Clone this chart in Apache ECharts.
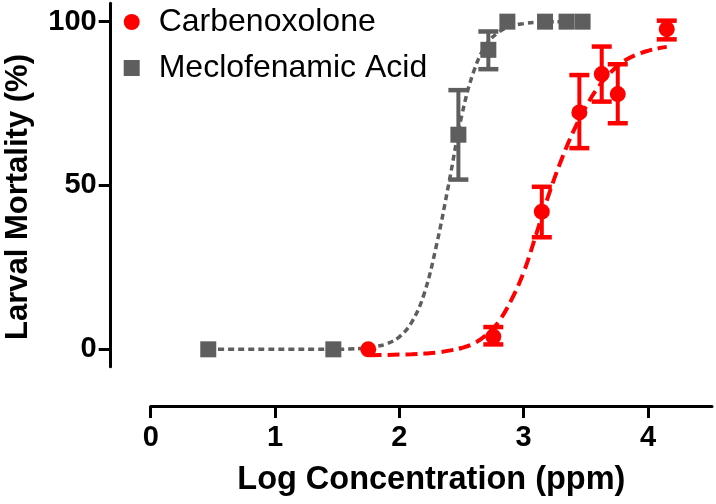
<!DOCTYPE html>
<html>
<head>
<meta charset="utf-8">
<script src="https://cdn.jsdelivr.net/npm/echarts@6/dist/echarts.min.js"></script>
<style>html,body{margin:0;padding:0;background:#fff}#c{width:716px;height:504px}</style>
</head>
<body>
<div id="c"></div>
<script>
// Carbenoxolone (red circles)
const carbX = [1.75, 2.756, 3.146, 3.448, 3.628, 3.757, 4.151];
const carbY = [0, 3.9, 42, 72.3, 84, 77.9, 97.7];
const carbHigh = [0, 6.8, 49.6, 83.7, 92.4, 87, 100.3];
const carbLow = [0, 1.5, 34.2, 61.4, 75.6, 69, 94.6];
// Meclofenamic Acid (grey squares)
const mecX = [0.463, 1.469, 2.475, 2.716, 2.869, 3.172, 3.345, 3.474];
const mecY = [0, 0, 65.5, 91.4, 100, 100, 100, 100];
const mecHigh = [0, 0, 79.1, 97, 100, 100, 100, 100];
const mecLow = [0, 0, 51.8, 85.5, 100, 100, 100, 100];
// fitted curves
const mecCurveX = [0.463, 1.0, 1.469, 1.6, 1.7, 1.8, 1.9, 2.0, 2.1, 2.2, 2.3, 2.4, 2.5, 2.6, 2.7, 2.8, 2.9, 3.0, 3.1, 3.2, 3.3, 3.474];
const mecCurveY = [0, 0, 0, 0.1, 0.3, 0.8, 1.7, 3.8, 8.3, 17, 32, 51, 71, 85, 93, 96.8, 98.6, 99.4, 99.8, 100, 100, 100];
const carbCurveX = [1.76, 1.9, 2.0, 2.1, 2.2, 2.3, 2.4, 2.5, 2.6, 2.7, 2.8, 2.9, 3.0, 3.1, 3.2, 3.3, 3.4, 3.5, 3.6, 3.7, 3.8, 3.9, 4.0, 4.1, 4.151];
const carbCurveY = [-1.8, -1.7, -1.6, -1.5, -1.3, -1.0, -0.4, 0.4, 1.8, 4.4, 8.5, 15, 23.5, 35, 47, 57.5, 66.5, 74, 80, 84.5, 87.8, 89.8, 91.1, 92, 92.3];
// ticks
const xTicks = [0, 1, 2, 3, 4];
const yTicks = [0, 50, 100];
const seriesNames = ['Carbenoxolone', 'Meclofenamic Acid'];

const RED = '#ff0000', GREY = '#5e5e5e';
const FONT = 'Liberation Sans, Arial, sans-serif';

const zip = (a, b) => a.map((v, i) => [v, b[i]]);
const errData = (x, lo, hi) => x.map((v, i) => [v, lo[i], hi[i]]).filter(d => d[2] > d[1]);

function errRender(color) {
  return function (params, api) {
    const x = api.value(0), lo = api.value(1), hi = api.value(2);
    const t = api.coord([x, hi]), b = api.coord([x, lo]);
    const hw = 10, st = {stroke: color, lineWidth: 4.5};
    return {type: 'group', children: [
      {type: 'line', shape: {x1: t[0], y1: t[1], x2: b[0], y2: b[1]}, style: {stroke: color, lineWidth: 4}},
      {type: 'line', shape: {x1: t[0] - hw, y1: t[1], x2: t[0] + hw, y2: t[1]}, style: st},
      {type: 'line', shape: {x1: b[0] - hw, y1: b[1], x2: b[0] + hw, y2: b[1]}, style: st}
    ]};
  };
}

const chart = echarts.init(document.getElementById('c'), null, {renderer: 'canvas'});
chart.setOption({
  animation: false,
  backgroundColor: '#fff',
  grid: {left: 150.7, right: 4, top: 3.3, bottom: 137.3, containLabel: false, outerBoundsMode: 'none'},
  legend: {
    orient: 'vertical', left: 123.7, top: 6, padding: 0, itemGap: 14,
    itemWidth: 16, itemHeight: 16,
    data: [{name: seriesNames[0], icon: 'circle'}, {name: seriesNames[1], icon: 'rect'}],
    textStyle: {fontFamily: FONT, fontSize: 32, lineHeight: 32, color: '#000', padding: [0, 0, 0, 14]}
  },
  xAxis: {
    type: 'value', min: 0, max: 4.515, offset: 39.3,
    name: 'Log Concentration (ppm)', nameLocation: 'middle', nameGap: 58,
    nameTextStyle: {fontFamily: FONT, fontSize: 32.5, fontWeight: 'bold', color: '#000'},
    axisLine: {show: true, onZero: false, lineStyle: {color: '#000', width: 3}},
    axisTick: {show: true, length: 12, lineStyle: {color: '#000', width: 3}, customValues: xTicks},
    axisLabel: {fontFamily: FONT, fontSize: 29, fontWeight: 'bold', color: '#000', margin: 17, customValues: xTicks},
    splitLine: {show: false}
  },
  yAxis: {
    type: 'value', min: -5.3, max: 105.6, offset: 40,
    name: 'Larval Mortality (%)', nameLocation: 'middle', nameGap: 77,
    nameTextStyle: {fontFamily: FONT, fontSize: 31, fontWeight: 'bold', color: '#000', padding: [0, 24, 0, 0]},
    axisLine: {show: true, onZero: false, lineStyle: {color: '#000', width: 3}},
    axisTick: {show: true, length: 12, lineStyle: {color: '#000', width: 3}, customValues: yTicks},
    axisLabel: {fontFamily: FONT, fontSize: 29, fontWeight: 'bold', color: '#000', margin: 14, customValues: yTicks},
    splitLine: {show: false}
  },
  series: [
    {name: 'mecFit', type: 'line', data: zip(mecCurveX, mecCurveY), smooth: 0.4, showSymbol: false, symbol: 'none', silent: true,
      lineStyle: {color: GREY, width: 3.5, type: [6, 4]}, z: 2},
    {name: 'carbFit', type: 'line', data: zip(carbCurveX, carbCurveY), smooth: 0.4, showSymbol: false, symbol: 'none', silent: true,
      lineStyle: {color: RED, width: 4, type: [12, 6]}, z: 2},
    {name: 'mecErr', type: 'custom', renderItem: errRender(GREY), data: errData(mecX, mecLow, mecHigh), z: 3, silent: true},
    {name: 'carbErr', type: 'custom', renderItem: errRender(RED), data: errData(carbX, carbLow, carbHigh), z: 3, silent: true},
    {name: seriesNames[1], type: 'scatter', symbol: 'rect', symbolSize: 16, data: zip(mecX, mecY), itemStyle: {color: GREY, opacity: 1}, z: 4},
    {name: seriesNames[0], type: 'scatter', symbol: 'circle', symbolSize: 16, data: zip(carbX, carbY), itemStyle: {color: RED, opacity: 1}, z: 4}
  ]
});
</script>
</body>
</html>
